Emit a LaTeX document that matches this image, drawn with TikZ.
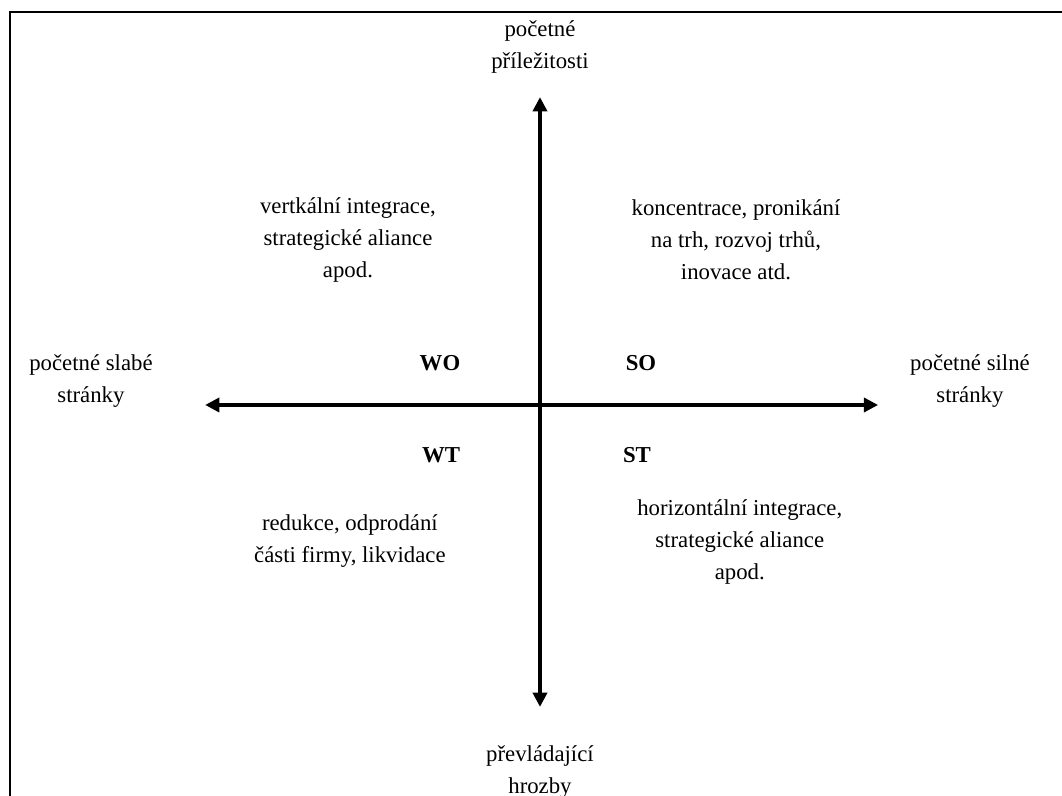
\documentclass[tikz,border=0pt]{standalone}
\usepackage{fontspec}
\setmainfont{Liberation Serif}
\usepackage{tikz}
\usetikzlibrary{arrows.meta, positioning}

\begin{document}
\begin{tikzpicture}[
  lbl/.style={font=\fontsize{12}{16.8}\selectfont, align=center, inner sep=0pt},
  tag/.style={font=\fontsize{12}{16.8}\selectfont\bfseries, inner sep=0pt},
  ax/.style={{Triangle[length=7.5pt, width=7.5pt]}-{Triangle[length=7.5pt, width=7.5pt]}, line width=1.7pt},
  frame/.style={line width=1.2pt},
]
  \clip (-10,7.5) rectangle (9.667,-7.241);
  \draw[frame] (-9.815,-8) |- (10,7.278);

  \coordinate (o) at (0,0);
  \coordinate (n) at (0,5.70);
  \coordinate (s) at (0,-5.59);
  \coordinate (w) at (-6.20,0);
  \coordinate (e) at (6.26,0);

  % axes
  \draw[ax] (s) -- (n);
  \draw[ax] (w) -- (e);

  \node[lbl] (opp) at (0,6.63) {početné\\příležitosti};
  \node[lbl] (thr) at (0,-6.80) {převládající\\hrozby};
  \node[lbl] (weak) at (-8.315,0.44) {početné slabé\\stránky};
  \node[lbl] (strong) at (7.963,0.44) {početné silné\\stránky};

  \node[tag] (wo) at (-1.852,0.778) {WO};
  \node[tag] (so) at (1.870,0.778) {SO};
  \node[tag] (wt) at (-1.833,-0.926) {WT};
  \node[tag] (st) at (1.796,-0.926) {ST};

  \node[lbl] (woTxt) at (-3.556,3.056) {vertkální integrace,\\strategické aliance\\apod.};
  \node[lbl] (soTxt) at (3.63,3.056) {koncentrace, pronikání\\na trh, rozvoj trhů,\\inovace atd.};
  \node[lbl] (wtTxt) at (-3.52,-2.52) {redukce, odprodání\\části firmy, likvidace};
  \node[lbl] (stTxt) at (3.70,-2.54) {horizontální integrace,\\strategické aliance\\apod.};
\end{tikzpicture}
\end{document}
